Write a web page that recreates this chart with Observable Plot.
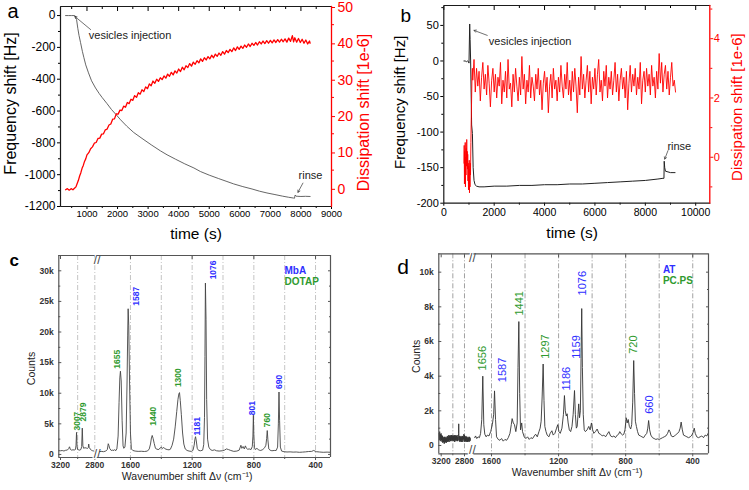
<!DOCTYPE html>
<html><head><meta charset="utf-8">
<script src="https://cdn.jsdelivr.net/npm/d3@7"></script>
<script src="https://cdn.jsdelivr.net/npm/@observablehq/plot@0.6"></script>
<style>
body{margin:0;background:#fff;}
#fig{position:relative;width:749px;height:490px;overflow:hidden;background:#fff;font-family:"Liberation Sans",Arial,sans-serif;}
</style></head><body><div id="fig"></div><script>
// ---------- Panel a (QCM-D, MbA/DOTAP) ----------
const aFreq = [[300,0],[400,0],[500,0],[580,0],[620,-3],[660,-25],[700,-80],[740,-125],[790,-170],[850,-225],[900,-265],[960,-310],[1050,-360],[1150,-410],[1280,-455],[1400,-490],[1500,-516],[1650,-552],[1800,-590],[1950,-622],[2100,-655],[2300,-695],[2530,-735],[2800,-772],[3100,-812],[3400,-850],[3620,-875],[3900,-903],[4200,-932],[4500,-958],[4710,-980],[5000,-1003],[5300,-1024],[5550,-1041],[5800,-1058],[6100,-1075],[6400,-1090],[6650,-1104],[6890,-1115],[7150,-1125],[7400,-1135],[7600,-1142],[7760,-1147],[7790,-1148],[7810,-1128],[7840,-1135],[7900,-1136],[8000,-1137],[8150,-1136],[8300,-1137]];
const aDiss = [[300,-0.4],[360,-0.1],[420,-0.5],[480,-0.1],[540,-0.4],[600,0.1],[640,0.4],[680,1.3],[720,2.2],[760,3.4],[800,4.3],[840,5.5],[880,6.3],[920,7.4],[960,8.1],[1000,9.2],[1060,9.8],[1120,10.9],[1180,11.4],[1240,12.4],[1300,12.6],[1360,13.7],[1420,13.8],[1480,14.9],[1540,15.0],[1600,16.1],[1660,16.3],[1720,17.4],[1780,17.7],[1840,19.0],[1900,19.1],[1960,20.5],[2020,20.4],[2080,21.5],[2140,21.4],[2200,22.6],[2260,22.3],[2320,23.6],[2380,23.3],[2440,24.5],[2500,24.2],[2560,25.5],[2620,25.0],[2680,26.3],[2740,25.9],[2800,27.1],[2860,26.6],[2920,27.9],[2980,27.4],[3040,28.7],[3100,28.2],[3160,29.5],[3220,28.9],[3280,30.0],[3340,29.4],[3400,30.4],[3460,29.9],[3520,30.9],[3580,30.3],[3640,31.4],[3700,30.8],[3760,31.9],[3820,31.2],[3880,32.3],[3940,31.7],[4000,32.8],[4060,32.1],[4120,33.3],[4180,32.6],[4240,33.7],[4300,33.2],[4360,34.3],[4420,33.6],[4480,34.7],[4540,34.1],[4600,35.1],[4660,34.5],[4720,35.6],[4780,34.9],[4840,35.9],[4900,35.3],[4960,36.2],[5020,35.6],[5080,36.6],[5140,35.9],[5200,36.9],[5260,36.3],[5320,37.2],[5380,36.6],[5440,37.6],[5500,36.9],[5560,37.9],[5620,37.3],[5680,38.2],[5740,37.6],[5800,38.6],[5860,37.9],[5920,38.9],[5980,38.2],[6040,39.1],[6100,38.5],[6160,39.4],[6220,38.8],[6280,39.7],[6340,39.0],[6400,39.9],[6460,39.3],[6520,40.1],[6580,39.4],[6640,40.3],[6700,39.7],[6760,40.5],[6820,39.8],[6880,40.6],[6940,39.9],[7000,40.7],[7060,40.0],[7120,40.8],[7180,40.1],[7240,40.9],[7300,40.2],[7360,41.0],[7420,40.3],[7480,41.1],[7540,40.2],[7600,41.3],[7660,40.4],[7720,42.0],[7760,40.3],[7800,41.4],[7860,40.2],[7920,41.2],[7980,40.1],[8040,41.0],[8100,39.9],[8160,40.8],[8220,39.7],[8280,40.5],[8300,39.9]];
const aNotes = [{x:1059,y:-123,label:"vesicles injection"},{x:7922,y:-1004,label:"rinse"}];
const aArrows = [{x1:1120,y1:-88,x2:600,y2:-5},{x1:8065,y1:-1053,x2:7902,y2:-1111}];
const aFreqTicks = [-1200,-1000,-800,-600,-400,-200,0];
const aFreqMinor = [-1100,-900,-700,-500,-300,-100];
const aTimeTicks = [1000,2000,3000,4000,5000,6000,7000,8000,9000];
const aTimeMinor = [500,1500,2500,3500,4500,5500,6500,7500,8500];
const aDissTicks = [0,10,20,30,40,50];
const aDissMinor = [5,15,25,35,45];

// ---------- Panel b (QCM-D, AT/PC.PS) ----------
const bFreq = [[800,0],[850,0],[900,-1],[950,0],[980,-1],[1000,-3],[1028,52],[1045,30],[1065,0],[1085,-45],[1105,-90],[1136,-102],[1165,-150],[1200,-168],[1240,-174],[1300,-176],[1400,-177],[1600,-177],[2000,-176],[2500,-176],[3000,-175],[3500,-175],[4000,-174],[4500,-174],[5000,-173],[5500,-173],[6000,-172],[6500,-171],[7000,-170],[7500,-169],[8000,-168],[8500,-166],[8700,-165],[8740,-165],[8750,-141],[8770,-150],[8800,-155],[8900,-156],[9000,-157],[9100,-157],[9180,-157]];
const bDiss = [[800,-0.2],[810,0.4],[820,-0.9],[830,0.2],[840,-0.5],[850,0.5],[860,-1.0],[870,0.0],[880,-0.6],[890,0.3],[900,-0.3],[910,0.6],[920,-0.2],[930,0.2],[940,-0.4],[950,0.1],[960,-0.8],[970,-0.2],[980,-1.1],[990,-0.3],[1000,-0.9],[1010,-0.1],[1020,-1.2],[1030,-0.4],[1040,-1.0],[1050,-0.2],[1060,-0.6],[1075,0.5],[1090,1.3],[1105,2.0],[1120,2.7],[1135,3.0],[1150,2.6],
[1200,3.3],[1250,2.2],[1300,3.0],[1350,2.4],[1400,2.9],[1450,1.9],[1500,2.7],[1550,3.2],[1600,2.3],
[1650,2.8],[1700,2.1],[1750,3.1],[1800,2.5],[1850,1.7],[1900,2.6],[1950,3.0],[2000,2.2],[2050,2.8],[2100,2.0],
[2150,2.7],[2200,2.4],[2250,3.2],[2300,1.8],[2350,2.6],[2400,2.2],[2450,2.9],[2500,2.0],[2550,3.3],[2600,2.3],
[2650,2.5],[2700,1.7],[2750,2.8],[2800,2.2],[2850,3.0],[2900,2.4],[2950,1.9],[3000,2.7],[3050,2.1],[3100,3.4],
[3150,2.3],[3200,2.8],[3250,1.8],[3300,2.6],[3350,2.2],[3400,3.1],[3450,2.0],[3500,2.7],[3550,2.4],[3600,1.9],
[3650,2.8],[3700,2.3],[3750,3.0],[3800,2.1],[3850,2.6],[3900,1.6],[3950,2.5],[4000,2.9],[4050,2.2],[4100,2.7],
[4150,1.5],[4200,2.4],[4250,2.8],[4300,2.0],[4350,3.0],[4400,2.3],[4450,2.6],[4500,1.9],[4550,2.7],[4600,2.2],
[4650,3.1],[4700,2.4],[4750,2.0],[4800,2.8],[4850,2.3],[4900,3.2],[4950,2.1],[5000,2.6],[5050,1.9],[5100,2.9],
[5150,2.2],[5200,3.0],[5250,2.4],[5300,1.5],[5350,2.7],[5400,2.1],[5450,3.4],[5500,2.3],[5550,2.8],[5600,2.0],
[5650,2.6],[5700,3.1],[5750,2.2],[5800,2.9],[5850,1.8],[5900,2.7],[5950,2.3],[6000,3.0],[6050,2.1],[6100,2.8],
[6150,3.3],[6200,2.2],[6250,2.6],[6300,1.9],[6350,2.9],[6400,2.4],[6450,3.1],[6500,2.0],[6550,2.7],[6600,2.3],
[6650,2.9],[6700,2.1],[6750,2.6],[6800,3.2],[6850,2.2],[6900,2.8],[6950,1.9],[7000,2.6],[7050,3.0],[7100,2.3],
[7150,2.7],[7200,2.0],[7250,2.9],[7300,1.6],[7350,2.5],[7400,3.1],[7450,2.2],[7500,2.8],[7550,2.4],[7600,3.0],
[7650,2.1],[7700,2.7],[7750,2.3],[7800,3.2],[7850,1.8],[7900,2.6],[7950,2.9],[8000,2.2],[8050,3.0],[8100,2.4],
[8150,2.8],[8200,2.1],[8250,3.1],[8300,2.4],[8350,2.7],[8400,2.0],[8450,2.9],[8500,2.3],[8550,3.5],[8600,2.5],
[8650,3.2],[8700,2.2],[8750,2.8],[8800,3.1],[8850,2.3],[8900,2.9],[8950,2.1],[9000,2.7],[9050,3.2],[9100,2.4],
[9150,2.6],[9200,2.2]];
const bNotes = [{x:1788,y:27.7,label:"vesicles injection"},{x:8876,y:-120,label:"rinse"}];
const bArrows = [{x1:1724,y1:36,x2:1200,y2:43},{x1:8900,y1:-126,x2:8770,y2:-138}];
const bTimeTicks = [0,2000,4000,6000,8000,10000];
const bTimeMinor = [1000,3000,5000,7000,9000];
const bFreqTicks = [-200,-150,-100,-50,0,50];
const bFreqMinor = [-175,-125,-75,-25,25,75];
const bDissTicks = [0,2,4];
const bDissMinor = [-1,1,3,5];

// ---------- Panel c (SERS, MbA/DOTAP) ----------
const cLeft = [[3220,620],[3200,600],[3180,640],[3160,560],[3140,680],[3120,720],[3105,950],[3095,1250],[3085,820],[3070,700],[3055,760],[3040,720],[3025,820],[3019,1500],[3013,3600],[3007,1300],[3000,800],[2990,760],[2975,700],[2962,820],[2953,1300],[2946,4300],[2939,1400],[2930,1000],[2915,1100],[2900,1050],[2885,980],[2876,1100],[2871,1700],[2865,1150],[2855,900],[2840,700],[2825,600],[2810,550],[2795,480]];
const cRight = [[1800,450],[1790,500],[1775,450],[1760,550],[1750,800],[1744,1750],[1740,1500],[1735,1000],[1725,650],[1715,700],[1707,650],[1702,800],[1696,600],[1688,900],[1680,3000],[1674,8500],[1669,12500],[1665,13600],[1660,12000],[1654,5500],[1648,1400],[1643,1000],[1636,1200],[1628,3500],[1622,12000],[1618,19500],[1615,23800],[1611,21000],[1606,12000],[1600,3500],[1594,900],[1585,650],[1570,550],[1550,500],[1530,520],[1510,480],[1490,550],[1478,900],[1470,1700],[1464,2700],[1459,3100],[1453,2600],[1446,1800],[1438,1000],[1428,850],[1416,800],[1408,1050],[1399,1200],[1392,950],[1384,1150],[1375,900],[1362,800],[1350,750],[1341,850],[1330,1500],[1320,2500],[1310,4500],[1300,7000],[1292,9000],[1286,9900],[1282,10100],[1277,8800],[1270,6500],[1262,3500],[1254,1700],[1245,900],[1233,650],[1220,550],[1205,500],[1195,650],[1187,1500],[1182,2500],[1178,2900],[1173,2200],[1167,1000],[1158,650],[1145,600],[1132,700],[1125,1600],[1120,6000],[1117,16000],[1114,28000],[1110,22000],[1106,9000],[1100,2500],[1092,1200],[1082,800],[1070,650],[1055,750],[1042,600],[1025,550],[1005,600],[990,700],[978,900],[965,800],[950,650],[930,500],[910,550],[895,700],[884,1500],[878,1000],[870,1300],[862,900],[855,1400],[848,1000],[840,850],[830,900],[818,800],[810,1300],[806,3000],[803,6400],[800,3000],[796,1100],[790,800],[780,1000],[772,800],[765,700],[755,650],[742,800],[730,1100],[722,1500],[717,2600],[713,3900],[709,2400],[703,900],[695,700],[683,600],[668,650],[655,650],[646,1200],[641,5000],[637,10200],[633,5500],[628,1200],[620,550],[605,450],[585,400],[565,420],[545,380],[525,400],[505,350],[485,380],[465,420],[445,480],[425,500],[412,650],[404,550],[395,450],[375,400],[350,350],[325,380],[303,350]];
const cBlueLabels = [{x:1561,y:24300,t:"1587"},{x:1167,y:3100,t:"1181"},{x:1064,y:28600,t:"1076"},{x:811,y:6400,t:"801"},{x:638,y:10700,t:"690"}];
const cGreenLabels = [{x:3005,y:3900,t:"3007"},{x:2935,y:5400,t:"2879"},{x:1686,y:14000,t:"1655"},{x:1453,y:4700,t:"1440"},{x:1287,y:11000,t:"1300"},{x:713,y:4450,t:"760"}];
const cLegend = [{x:601,y:30000,t:"MbA",g:"blue"},{x:601,y:28200,t:"DOTAP",g:"green"}];
const cXTicks = [3200,2800,1600,1200,800,400];
const cXMinor = [3000,1400,1000,600];
const cGrid = [3000,2800,1600,1400,1200,1000,800,600,400];
const cYTicks = [0,5000,10000,15000,20000,25000,30000];
const cYMinor = [2500,7500,12500,17500,22500,27500];

// ---------- Panel d (SERS, AT/PC.PS) ----------
const dLeft = [[3238,700],[3232,300],[3226,800],[3220,350],[3214,650],[3208,250],[3202,700],[3196,300],[3190,600],[3184,200],[3178,550],[3172,150],[3166,500],[3160,200],[3154,450],[3148,100],[3142,500],[3136,150],[3130,450],[3124,200],[3118,500],[3112,150],[3106,450],[3100,250],[3094,550],[3088,200],[3082,500],[3076,250],[3070,600],[3064,200],[3058,550],[3052,300],[3046,600],[3040,250],[3034,550],[3028,300],[3022,600],[3016,250],[3010,550],[3004,300],[2998,600],[2992,250],[2986,550],[2980,300],[2974,600],[2968,200],[2962,550],[2956,300],[2950,600],[2944,250],[2938,550],[2932,300],[2926,600],[2920,250],[2914,500],[2908,300],[2902,700],[2899,1250],[2896,600],[2890,250],[2884,550],[2878,200],[2872,500],[2866,250],[2860,550],[2854,200],[2848,500],[2842,300],[2836,550],[2830,200],[2824,500],[2818,350],[2812,650],[2806,250],[2800,600],[2794,200],[2788,500],[2782,250],[2776,550],[2770,200],[2764,500],[2758,250],[2752,450],[2746,200],[2740,500],[2734,250],[2728,450],[2722,200],[2716,500],[2710,250],[2704,450],[2698,300]];
const dRight = [[1700,450],[1695,550],[1688,400],[1680,500],[1672,450],[1665,700],[1658,1500],[1652,4000],[1646,1200],[1640,650],[1632,500],[1625,600],[1615,550],[1605,800],[1595,1200],[1587,1800],[1582,3150],[1576,1500],[1570,500],[1560,350],[1550,300],[1540,400],[1530,250],[1520,350],[1510,300],[1500,450],[1490,700],[1482,1200],[1477,1550],[1470,1300],[1463,1200],[1455,800],[1447,1300],[1442,4500],[1437,7150],[1432,3000],[1427,900],[1420,1300],[1415,800],[1405,500],[1395,400],[1385,500],[1375,350],[1365,450],[1355,400],[1345,550],[1337,650],[1327,500],[1317,800],[1310,1000],[1304,1400],[1298,2800],[1292,4700],[1287,2600],[1282,1100],[1275,800],[1268,600],[1258,500],[1250,700],[1240,850],[1232,600],[1222,700],[1212,1000],[1205,1200],[1198,800],[1190,700],[1180,1000],[1171,1800],[1165,2880],[1160,2000],[1154,1700],[1149,1830],[1143,1300],[1136,900],[1128,800],[1120,1100],[1113,1800],[1105,3170],[1100,1800],[1094,1000],[1089,1100],[1084,1800],[1080,2400],[1075,1600],[1070,2000],[1066,5000],[1062,7900],[1058,4500],[1053,1800],[1047,900],[1040,800],[1030,900],[1020,1100],[1012,900],[1004,1300],[997,900],[990,700],[980,800],[970,950],[960,700],[950,650],[940,550],[930,600],[920,500],[910,650],[900,800],[890,550],[880,500],[870,550],[861,450],[850,600],[842,650],[835,800],[825,650],[818,600],[811,650],[804,900],[797,1600],[791,1300],[785,1500],[778,1100],[770,950],[764,1200],[758,2500],[752,4900],[747,3000],[742,1400],[736,1100],[729,800],[722,600],[712,550],[703,500],[693,450],[683,600],[674,700],[668,1000],[663,1440],[657,900],[650,600],[640,450],[630,400],[620,350],[610,380],[600,350],[590,400],[580,450],[570,500],[560,550],[550,700],[542,900],[536,800],[528,550],[518,500],[508,550],[498,650],[490,700],[482,800],[475,1000],[469,1350],[462,900],[455,600],[445,550],[435,500],[425,450],[415,500],[405,600],[398,750],[391,1000],[385,700],[376,500],[366,450],[356,500],[346,550],[336,450],[326,600],[316,550],[308,700]];
const dBlueLabels = [{x:1536,y:3650,t:"1587"},{x:1155,y:3170,t:"1186"},{x:1093,y:5000,t:"1159"},{x:1056,y:8660,t:"1076"},{x:658,y:1830,t:"660"}];
const dGreenLabels = [{x:1652,y:4330,t:"1656"},{x:1433,y:7500,t:"1441"},{x:1278,y:5000,t:"1297"},{x:752,y:5290,t:"720"}];
const dLegend = [{x:578,y:10160,t:"AT",g:"blue"},{x:578,y:9520,t:"PC.PS",g:"green"}];
const dXTicks = [3200,2800,1600,1200,800,400];
const dXMinor = [3000,1400,1000,600];
const dGrid = [3000,2800,1600,1400,1200,1000,800,600,400];
const dYTicks = [0,2000,4000,6000,8000,10000];
const dYMinor = [1000,3000,5000,7000,9000];

// ---------- drawing ----------
const FONT = "'Liberation Sans', Arial, sans-serif";
const RED = "#ff0000";
const BLUE = "#2f2fff";
const GREEN = "#2f9a2f";
const fig = document.getElementById("fig");
const st = {background: "transparent", fontFamily: FONT, overflow: "visible", maxWidth: "none"};
const none = () => "";
const plain = d => String(d);
const fx = d => d[0], fy = d => d[1];
const txt = (s, o) => Plot.text([s], {text: d => d, textAnchor: "middle", ...o});
function add(svg, left, top, z) {
  svg.style.position = "absolute";
  svg.style.left = left + "px";
  svg.style.top = top + "px";
  if (z) svg.style.zIndex = z;
  fig.appendChild(svg);
}
const kfmt = d => d === 0 ? "0" : (d / 1000) + "k";
// frame of a QCM-D panel: polyline through the scale-domain corners (black left/top/bottom, red right)
function frameLayer(dim, xDom, yDom, left, top) {
  const [x0, x1] = xDom, [y0, y1] = yDom;
  const box = [[x1, y0], [x0, y0], [x0, y1], [x1, y1]];
  const rightSide = [[x1, y0], [x1, y1]];
  add(Plot.plot({...dim, style: {background: "transparent", overflow: "visible", maxWidth: "none"},
    x: {domain: xDom, axis: null}, y: {domain: yDom, axis: null},
    marks: [
      Plot.line(box, {x: fx, y: fy, stroke: "#1a1a1a", strokeWidth: 1.2, strokeLinejoin: "miter"}),
      Plot.line(rightSide, {x: fx, y: fy, stroke: RED, strokeWidth: 1.3})
    ]}), left, top, 10);
}

// Panel a
const aX = [134, 9000], aY = [-1200, 57], aY2 = [-5, 50];
const aDim = {width: 375, height: 245, marginLeft: 60, marginRight: 44, marginTop: 6, marginBottom: 39};
add(Plot.plot({...aDim, style: st,
  x: {domain: aX}, y: {domain: aY},
  marks: [
    Plot.axisY({ticks: aFreqTicks, tickSize: 3, tickPadding: 2, tickFormat: plain, fontSize: 12, label: null}),
    Plot.axisY({ticks: aFreqMinor, tickSize: 2, tickFormat: none, label: null}),
    Plot.axisX({ticks: aTimeTicks, tickSize: 3, tickPadding: 1, tickFormat: plain, fontSize: 9.5, label: null}),
    Plot.axisX({ticks: aTimeMinor, tickSize: 2, tickFormat: none, label: null}),
    Plot.axisX({anchor: "top", ticks: aTimeTicks, tickSize: 4, dy: 4, tickFormat: none, label: null}),
    Plot.axisX({anchor: "top", ticks: aTimeMinor, tickSize: 2, dy: 2, tickFormat: none, label: null}),
    Plot.line(aFreq, {x: fx, y: fy, stroke: "#555", strokeWidth: 0.9}),
    Plot.arrow(aArrows, {x1: "x1", y1: "y1", x2: "x2", y2: "y2", stroke: "#333", strokeWidth: 0.7, headLength: 5}),
    Plot.text(aNotes, {x: "x", y: "y", text: "label", textAnchor: "start", fontSize: 11, fill: "#222"}),
    txt("Frequency shift [Hz]", {frameAnchor: "left", rotate: -90, dx: -50, dy: -3, fontSize: 16}),
    txt("time (s)", {frameAnchor: "bottom", dy: 32, fontSize: 15.5}),
    txt("a", {frameAnchor: "top-left", dx: -53, dy: 11, textAnchor: "start", lineAnchor: "bottom", fontSize: 20})
  ]}), 0, 0);
add(Plot.plot({...aDim, style: st,
  x: {domain: aX, axis: null}, y: {domain: aY2},
  marks: [
    Plot.axisY({anchor: "right", ticks: aDissTicks, tickSize: 3, tickPadding: 3, dy: 1, tickFormat: plain, fontSize: 14, stroke: RED, fill: RED, label: null}),
    Plot.axisY({anchor: "right", ticks: aDissMinor, tickSize: 2, tickFormat: none, stroke: RED, label: null}),
    Plot.line(aDiss, {x: fx, y: fy, stroke: RED, strokeWidth: 1.3}),
    txt("Dissipation shift [1e-6]", {frameAnchor: "right", rotate: -90, dx: 32, dy: 6, fontSize: 16, fill: RED})
  ]}), 0, 0);

// Panel b
const bX = [0, 10560], bY = [-200, 78], bY2 = [-1.55, 5.12];
const bDim = {width: 374, height: 245, marginLeft: 68.3, marginRight: 39.7, marginTop: 5, marginBottom: 42.3};
add(Plot.plot({...bDim, style: st,
  x: {domain: bX}, y: {domain: bY},
  marks: [
    Plot.axisY({ticks: bFreqTicks, tickSize: 3, tickPadding: 2, tickFormat: plain, fontSize: 11, label: null}),
    Plot.axisY({ticks: bFreqMinor, tickSize: 2, tickFormat: none, label: null}),
    Plot.axisX({ticks: bTimeTicks, tickSize: 3, tickPadding: 2, tickFormat: plain, fontSize: 10.5, label: null}),
    Plot.axisX({ticks: bTimeMinor, tickSize: 2, tickFormat: none, label: null}),
    Plot.axisX({anchor: "top", ticks: bTimeTicks, tickSize: 4, dy: 4, tickFormat: none, label: null}),
    Plot.axisX({anchor: "top", ticks: bTimeMinor, tickSize: 2, dy: 2, tickFormat: none, label: null}),
    Plot.line(bFreq, {x: fx, y: fy, stroke: "#222", strokeWidth: 1}),
    Plot.arrow(bArrows, {x1: "x1", y1: "y1", x2: "x2", y2: "y2", stroke: "#333", strokeWidth: 0.7, headLength: 5}),
    Plot.text(bNotes, {x: "x", y: "y", text: "label", textAnchor: "start", fontSize: 11, fill: "#222"}),
    txt("Frequency shift [Hz]", {frameAnchor: "left", rotate: -90, dx: -43.3, dy: -2, fontSize: 15}),
    txt("time (s)", {frameAnchor: "bottom", dx: -4.6, dy: 35, fontSize: 15.5}),
    txt("b", {frameAnchor: "top-left", dx: -43.3, dy: 16.7, textAnchor: "start", lineAnchor: "bottom", fontSize: 19})
  ]}), 375, 0);
add(Plot.plot({...bDim, style: st,
  x: {domain: bX, axis: null}, y: {domain: bY2},
  marks: [
    Plot.axisY({anchor: "right", ticks: bDissTicks, tickSize: 3, tickPadding: 1, tickFormat: plain, fontSize: 11, stroke: RED, fill: RED, label: null}),
    Plot.axisY({anchor: "right", ticks: bDissMinor, tickSize: 2, tickFormat: none, stroke: RED, label: null}),
    Plot.line(bDiss, {x: fx, y: fy, stroke: RED, strokeWidth: 0.9}),
    txt("Dissipation shift [1e-6]", {frameAnchor: "right", rotate: -90, dx: 27.4, dy: 2.8, fontSize: 15, fill: RED})
  ]}), 375, 0);

// Spectrum panels: broken wavenumber axis drawn as two overlaid plots sharing the y scale
function spectrum(o, left, top) {
  const inL = v => v <= o.lDom[0] && v >= o.lDom[1];
  const inR = v => v <= o.rDom[0] && v >= o.rDom[1];
  const tk = {stroke: "#555", tickFormat: none, label: null};
  const fr = {stroke: "#555", strokeWidth: 1.2};
  const base = {height: 245, width: o.width, marginTop: o.mT, marginBottom: o.mB, style: st, y: {domain: o.yDom}};
  const grid = (g) => Plot.ruleX(g, {stroke: o.gridColor, strokeWidth: 0.8, strokeDasharray: "5,2,1,2"});
  const peakText = (arr, color) => Plot.text(arr, {x: "x", y: "y", text: "t", rotate: -90, textAnchor: "start", fill: color, fontSize: o.labelSize, fontWeight: o.labelWeight});
  const brk = (anchor) => txt("//", {frameAnchor: anchor, dx: o.brkDx, fontSize: 12, fill: "#444", stroke: "white", strokeWidth: 2.5, paintOrder: "stroke"});
  add(Plot.plot({...base, marginLeft: o.lRange[0], marginRight: o.width - o.lRange[1],
    x: {domain: o.lDom},
    marks: [
      grid(o.grid.filter(inL)),
      Plot.line(o.left, {x: fx, y: fy, stroke: o.lineColor, strokeWidth: 0.9}),
      Plot.ruleY(o.yDom, fr),
      Plot.ruleX([o.lDom[0]], fr),
      Plot.axisY({ticks: o.yTicks, tickSize: 0, tickPadding: 5, tickFormat: kfmt, fontSize: 8.5, fontWeight: "bold", fill: "#333", label: null}),
      Plot.axisY({ticks: o.yTicks, tickSize: 3, dx: 3, ...tk}),
      Plot.axisY({ticks: o.yMinor, tickSize: 2, dx: 2, ...tk}),
      Plot.axisX({ticks: o.xTicks.filter(inL), tickSize: 3, tickPadding: 1, tickFormat: plain, fontSize: 8.5, fontWeight: "bold", fill: "#333", stroke: "#555", label: null}),
      Plot.axisX({ticks: o.xMinor.filter(inL), tickSize: 2, ...tk}),
      Plot.axisX({anchor: "top", ticks: o.xTicks.filter(inL), tickSize: 3, dy: 3, ...tk}),
      peakText(o.blue.filter(d => inL(d.x)), BLUE),
      peakText(o.green.filter(d => inL(d.x)), GREEN),
      brk("top-right"), brk("bottom-right"),
      txt("Counts", {frameAnchor: "left", rotate: -90, dx: o.cdx, dy: o.cdy, fontSize: 10.5, fill: "#222"}),
      txt(o.letter, {frameAnchor: "top-left", dx: o.ldx, dy: o.ldy, textAnchor: "start", lineAnchor: "bottom", fontSize: o.letterSize, fontWeight: o.letterWeight})
    ]}), left, top);
  add(Plot.plot({...base, marginLeft: o.rRange[0], marginRight: o.width - o.rRange[1],
    x: {domain: o.rDom},
    marks: [
      grid(o.grid.filter(inR)),
      Plot.line(o.right, {x: fx, y: fy, stroke: o.lineColor, strokeWidth: 0.9}),
      Plot.ruleY(o.yDom, fr),
      Plot.ruleX([o.rDom[1]], fr),
      Plot.axisY({anchor: "right", ticks: o.yTicks, tickSize: 3, dx: -3, ...tk}),
      Plot.axisY({anchor: "right", ticks: o.yMinor, tickSize: 2, dx: -2, ...tk}),
      Plot.axisX({ticks: o.xTicks.filter(inR), tickSize: 3, tickPadding: 1, tickFormat: plain, fontSize: 8.5, fontWeight: "bold", fill: "#333", stroke: "#555", label: null}),
      Plot.axisX({ticks: o.xMinor.filter(inR), tickSize: 2, ...tk}),
      Plot.axisX({anchor: "top", ticks: o.xTicks.filter(inR), tickSize: 3, dy: 3, ...tk}),
      peakText(o.blue.filter(d => inR(d.x)), BLUE),
      peakText(o.green.filter(d => inR(d.x)), GREEN),
      Plot.text(o.legend, {x: "x", y: "y", text: "t", textAnchor: "start", fill: d => d.g === "blue" ? BLUE : GREEN, fontSize: 10, fontWeight: "bold"}),
      txt("Wavenumber shift \u0394\u03bd (cm\u207b\u00b9)", {frameAnchor: "bottom", dx: o.wdx, dy: 22, fontSize: 10.5, fill: "#222"})
    ]}), left, top);
}
spectrum({width: 375, mT: 10, mB: 33, yDom: [-500, 32500],
  lDom: [3220, 2772], lRange: [58.3, 96.7], rDom: [1815, 303], rRange: [96.8, 330], brkDx: 0,
  grid: cGrid, gridColor: "#b5b5b5", lineColor: "#444", left: cLeft, right: cRight,
  yTicks: cYTicks, yMinor: cYMinor, xTicks: cXTicks, xMinor: cXMinor,
  blue: cBlueLabels, green: cGreenLabels, legend: cLegend, labelSize: 8.5, labelWeight: "bold",
  cdx: -27.5, cdy: 12, wdx: -26.7, letter: "c", ldx: -49.3, ldy: 10.7, letterSize: 17, letterWeight: "bold"}, 0, 245);
spectrum({width: 374, mT: 8.3, mB: 36.7, yDom: [-480, 11060],
  lDom: [3241, 2690], lRange: [63.3, 95.4], rDom: [1705, 306], rRange: [98.4, 333], brkDx: 1.5,
  grid: dGrid, gridColor: "#8a8a8a", lineColor: "#333", left: dLeft, right: dRight,
  yTicks: dYTicks, yMinor: dYMinor, xTicks: dXTicks, xMinor: dXMinor,
  blue: dBlueLabels, green: dGreenLabels, legend: dLegend, labelSize: 11, labelWeight: "normal",
  cdx: -22.5, cdy: 2.5, wdx: -14, letter: "d", ldx: -41.6, ldy: 20, letterSize: 21, letterWeight: "normal"}, 375, 245);

// frames of panels a and b, drawn last on top of everything
frameLayer(aDim, aX, aY2, 0, 0);
frameLayer(bDim, bX, bY2, 375, 0);
</script></body></html>
